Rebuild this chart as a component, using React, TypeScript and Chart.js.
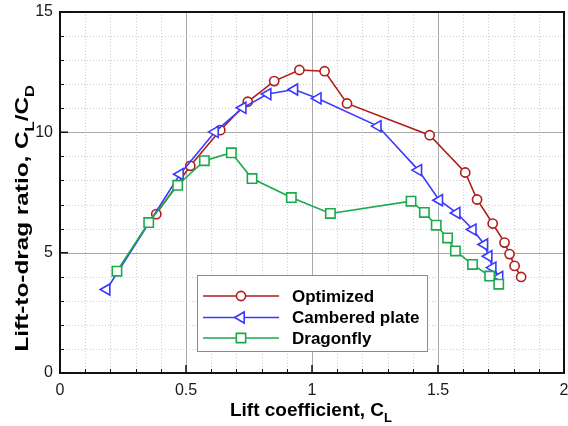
import { useEffect, useRef } from 'react';
import { Chart, registerables } from 'chart.js';

Chart.register(...registerables);

// ---- data ----
const optimizedCL = [0.382, 0.517, 0.636, 0.745, 0.850, 0.950, 1.050, 1.139, 1.467, 1.608, 1.655, 1.717, 1.764, 1.784, 1.804, 1.830];
const optimizedLD = [6.60, 8.61, 10.09, 11.27, 12.13, 12.59, 12.54, 11.20, 9.88, 8.33, 7.21, 6.21, 5.42, 4.94, 4.45, 3.99];

const camberedCL = [0.185, 0.476, 0.615, 0.725, 0.824, 0.930, 1.023, 1.261, 1.422, 1.505, 1.574, 1.638, 1.684, 1.701, 1.717, 1.744];
const camberedLD = [3.47, 8.26, 10.02, 11.02, 11.59, 11.78, 11.41, 10.26, 8.43, 7.18, 6.65, 5.96, 5.34, 4.85, 4.38, 3.99];

const dragonflyCL = [0.226, 0.352, 0.467, 0.573, 0.680, 0.762, 0.918, 1.073, 1.393, 1.446, 1.493, 1.538, 1.569, 1.637, 1.705, 1.741];
const dragonflyLD = [4.23, 6.25, 7.80, 8.82, 9.15, 8.08, 7.29, 6.63, 7.14, 6.67, 6.14, 5.61, 5.07, 4.51, 4.03, 3.69];

const seriesNames = ['Optimized', 'Cambered plate', 'Dragonfly'];
const seriesColors = ['#b01c1c', '#3a3aff', '#1aaa4c'];

const xMajorTicks = [0, 0.5, 1, 1.5, 2];
const yMajorTicks = [0, 5, 10, 15];
const xMinorTicks = [0.1, 0.2, 0.3, 0.4, 0.6, 0.7, 0.8, 0.9, 1.1, 1.2, 1.3, 1.4, 1.6, 1.7, 1.8, 1.9];
const yMinorTicks = [1, 2, 3, 4, 6, 7, 8, 9, 11, 12, 13, 14];

const xTitle = 'Lift coefficient, C';
const xTitleSub = 'L';
const yTitleParts: [string, boolean][] = [['Lift-to-drag ratio, C', false], ['L', true], ['/C', false], ['D', true]];

const FONT = '"Liberation Sans", Arial, sans-serif';

const pts = (xs: number[], ys: number[]) => xs.map((x, i) => ({ x, y: ys[i] }));

const styles = [
  { pointStyle: 'circle', radius: 4.6, rotation: 0 },
  { pointStyle: 'triangle', radius: 6.4, rotation: -90 },
  { pointStyle: 'rect', radius: 6.6, rotation: 0 },
];

function drawMarker(ctx: CanvasRenderingContext2D, kind: number, x: number, y: number, color: string) {
  const s = styles[kind];
  ctx.save();
  ctx.strokeStyle = color;
  ctx.fillStyle = '#ffffff';
  ctx.lineWidth = 1.6;
  ctx.beginPath();
  if (kind === 0) {
    ctx.arc(x, y, s.radius, 0, Math.PI * 2);
  } else if (kind === 1) {
    const r = s.radius;
    let a = (s.rotation * Math.PI) / 180;
    ctx.moveTo(x + Math.sin(a) * r, y - Math.cos(a) * r);
    a += (2 * Math.PI) / 3;
    ctx.lineTo(x + Math.sin(a) * r, y - Math.cos(a) * r);
    a += (2 * Math.PI) / 3;
    ctx.lineTo(x + Math.sin(a) * r, y - Math.cos(a) * r);
    ctx.closePath();
  } else {
    const h = Math.SQRT1_2 * s.radius;
    ctx.rect(x - h, y - h, 2 * h, 2 * h);
  }
  ctx.fill();
  ctx.stroke();
  ctx.restore();
}

const decorPlugin = {
  id: 'decor',
  beforeDatasetsDraw(chart: any) {
    const { ctx, chartArea: a, scales } = chart;
    const xs = scales.x;
    const ys = scales.y;
    ctx.save();
    ctx.lineWidth = 1;
    ctx.strokeStyle = '#cdcdcd';
    ctx.setLineDash([1, 2]);
    ctx.beginPath();
    xMinorTicks.forEach((v) => {
      const X = Math.round(xs.getPixelForValue(v)) + 0.5;
      ctx.moveTo(X, a.top);
      ctx.lineTo(X, a.bottom);
    });
    yMinorTicks.forEach((v) => {
      const Y = Math.round(ys.getPixelForValue(v)) + 0.5;
      ctx.moveTo(a.left, Y);
      ctx.lineTo(a.right, Y);
    });
    ctx.stroke();
    ctx.setLineDash([]);
    ctx.strokeStyle = '#a8a8a8';
    ctx.beginPath();
    xMajorTicks.slice(1, -1).forEach((v) => {
      const X = Math.round(xs.getPixelForValue(v)) + 0.5;
      ctx.moveTo(X, a.top);
      ctx.lineTo(X, a.bottom);
    });
    yMajorTicks.slice(1, -1).forEach((v) => {
      const Y = Math.round(ys.getPixelForValue(v)) + 0.5;
      ctx.moveTo(a.left, Y);
      ctx.lineTo(a.right, Y);
    });
    ctx.stroke();
    ctx.restore();
  },
  afterDatasetsDraw(chart: any) {
    const { ctx, chartArea: a, scales } = chart;
    const xs = scales.x;
    const ys = scales.y;
    ctx.save();
    ctx.strokeStyle = '#111111';
    ctx.lineWidth = 2;
    ctx.strokeRect(a.left, a.top, a.right - a.left, a.bottom - a.top);
    ctx.lineWidth = 1.5;
    ctx.beginPath();
    xMajorTicks.forEach((v) => {
      const X = xs.getPixelForValue(v);
      ctx.moveTo(X, a.bottom);
      ctx.lineTo(X, a.bottom - 8);
    });
    yMajorTicks.forEach((v) => {
      const Y = ys.getPixelForValue(v);
      ctx.moveTo(a.left, Y);
      ctx.lineTo(a.left + 8, Y);
    });
    ctx.stroke();
    ctx.lineWidth = 1;
    ctx.beginPath();
    xMinorTicks.forEach((v) => {
      const X = Math.round(xs.getPixelForValue(v)) + 0.5;
      ctx.moveTo(X, a.bottom);
      ctx.lineTo(X, a.bottom - 4);
    });
    yMinorTicks.forEach((v) => {
      const Y = Math.round(ys.getPixelForValue(v)) + 0.5;
      ctx.moveTo(a.left, Y);
      ctx.lineTo(a.left + 4, Y);
    });
    ctx.stroke();
    ctx.restore();
  },
  afterDraw(chart: any) {
    const { ctx, chartArea: a } = chart;
    ctx.save();
    const lx = 197, ly = 275, lw = 230, lh = 76;
    ctx.fillStyle = '#ffffff';
    ctx.fillRect(lx, ly, lw, lh);
    ctx.strokeStyle = '#8a8a8a';
    ctx.lineWidth = 1;
    ctx.strokeRect(lx + 0.5, ly + 0.5, lw, lh);
    const rows = [296, 317.5, 338];
    seriesNames.forEach((name, i) => {
      const yy = rows[i];
      ctx.strokeStyle = seriesColors[i];
      ctx.lineWidth = 1.6;
      ctx.beginPath();
      ctx.moveTo(203, yy);
      ctx.lineTo(279, yy);
      ctx.stroke();
      drawMarker(ctx, i, 241, yy, seriesColors[i]);
      ctx.fillStyle = '#000000';
      ctx.font = `bold 17px ${FONT}`;
      ctx.textAlign = 'left';
      ctx.textBaseline = 'middle';
      ctx.fillText(name, 292, yy + 1);
    });

    ctx.fillStyle = '#000000';
    ctx.textBaseline = 'alphabetic';
    ctx.textAlign = 'left';
    ctx.font = `bold 19px ${FONT}`;
    const wMain = ctx.measureText(xTitle).width;
    ctx.font = `bold 13px ${FONT}`;
    const wSub = ctx.measureText(xTitleSub).width;
    const cx = 311;
    const x0 = cx - (wMain + wSub) / 2;
    ctx.font = `bold 19px ${FONT}`;
    ctx.fillText(xTitle, x0, 415.5);
    ctx.font = `bold 13px ${FONT}`;
    ctx.fillText(xTitleSub, x0 + wMain, 421.5);

    let total = 0;
    yTitleParts.forEach(([t, sub]) => {
      ctx.font = sub ? `bold 13px ${FONT}` : `bold 19px ${FONT}`;
      total += ctx.measureText(t).width;
    });
    const startY = 351.5, endY = 85;
    const sx = (startY - endY) / total;
    ctx.translate(28, startY);
    ctx.rotate(-Math.PI / 2);
    ctx.scale(sx, 1);
    let pos = 0;
    yTitleParts.forEach(([t, sub]) => {
      ctx.font = sub ? `bold 13px ${FONT}` : `bold 19px ${FONT}`;
      ctx.fillText(t, pos, sub ? 6 : 0);
      pos += ctx.measureText(t).width;
    });
    ctx.restore();
  },
};

export default function App() {
  const ref = useRef<HTMLCanvasElement | null>(null);
  useEffect(() => {
    if (!ref.current) return;
    const series = [
      pts(optimizedCL, optimizedLD),
      pts(camberedCL, camberedLD),
      pts(dragonflyCL, dragonflyLD),
    ];
    const chart = new Chart(ref.current, {
      type: 'line',
      data: {
        datasets: series.map((d, i) => ({
          label: seriesNames[i],
          data: d,
          borderColor: seriesColors[i],
          backgroundColor: '#ffffff',
          borderWidth: 1.6,
          pointStyle: styles[i].pointStyle as any,
          pointRadius: styles[i].radius,
          pointRotation: styles[i].rotation,
          pointBorderWidth: 1.6,
          pointBackgroundColor: '#ffffff',
          pointBorderColor: seriesColors[i],
          tension: 0,
          fill: false,
          order: 3 - i,
        })),
      },
      options: {
        responsive: false,
        maintainAspectRatio: false,
        animation: false,
        layout: { padding: { top: 12, right: 4, left: 0, bottom: 0 } },
        plugins: { legend: { display: false }, tooltip: { enabled: false } },
        scales: {
          x: {
            type: 'linear',
            min: 0,
            max: 2,
            grid: { display: false, drawTicks: false },
            border: { display: false },
            ticks: {
              stepSize: 0.5,
              padding: 8,
              color: '#1a1a1a',
              font: { family: FONT, size: 16 },
              callback: (v: any) => String(v),
            },
            afterFit: (s: any) => {
              s.height = 53;
              s.paddingLeft = 0;
              s.paddingRight = 0;
              s.paddingTop = 0;
              s.paddingBottom = 0;
            },
          },
          y: {
            type: 'linear',
            min: 0,
            max: 15,
            grid: { display: false, drawTicks: false },
            border: { display: false },
            ticks: {
              stepSize: 5,
              padding: 7,
              color: '#1a1a1a',
              font: { family: FONT, size: 16 },
              callback: (v: any) => String(v),
            },
            afterFit: (s: any) => {
              s.width = 60;
              s.paddingLeft = 0;
              s.paddingRight = 0;
              s.paddingTop = 0;
              s.paddingBottom = 0;
            },
          },
        },
      },
      plugins: [
        decorPlugin,
        {
          id: 'areaFix',
          afterLayout(chart: any) {
            // fix chart area to match the reference frame exactly
            const a = chart.chartArea;
            const want = { left: 60, right: 564, top: 12, bottom: 373 };
            if (a.right !== want.right || a.top !== want.top) {
              a.left = want.left; a.right = want.right; a.top = want.top; a.bottom = want.bottom;
              a.width = want.right - want.left; a.height = want.bottom - want.top;
              const xs = chart.scales.x, ys = chart.scales.y;
              xs.left = want.left; xs.right = want.right; xs.width = a.width; xs.top = want.bottom; xs.bottom = 426;
              ys.top = want.top; ys.bottom = want.bottom; ys.height = a.height; ys.left = 0; ys.right = want.left;
              xs.configure(); ys.configure();
            }
          },
        },
      ],
    });
    return () => chart.destroy();
  }, []);
  return (
    <div style={{ position: 'absolute', left: 0, top: 0, width: 568, height: 426, background: '#fff' }}>
      <canvas ref={ref} width={568} height={426} style={{ width: 568, height: 426 }} />
    </div>
  );
}
